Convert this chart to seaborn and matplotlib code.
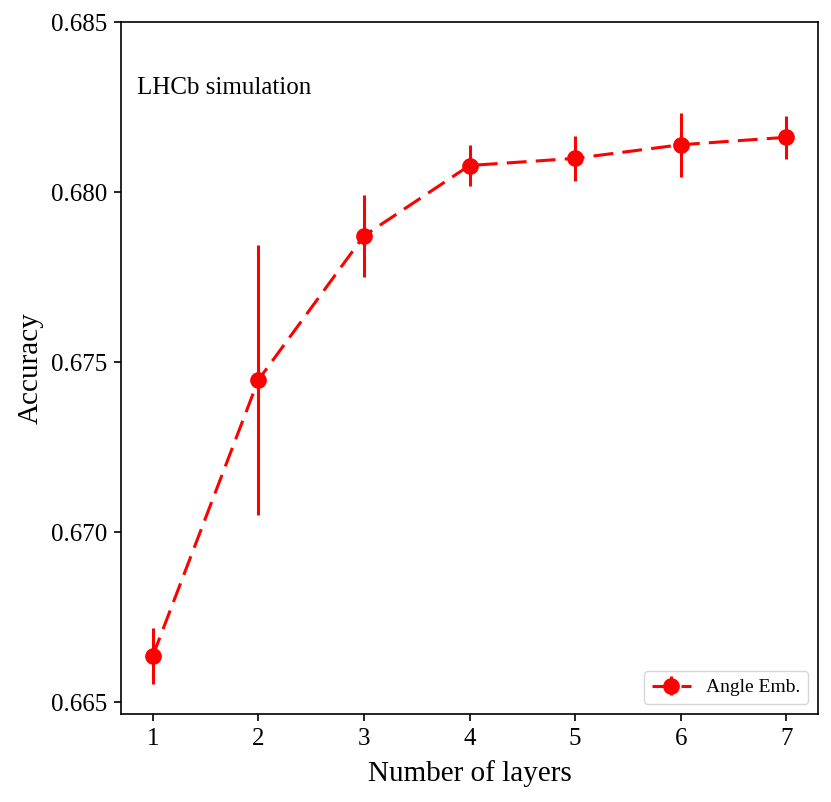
import numpy as np
import matplotlib.pyplot as plt
import seaborn as sns

# Accuracy vs number of layers (angle embedding)
layers = [1, 2, 3, 4, 5, 6, 7]
accuracy = [0.66635, 0.67447, 0.67871, 0.68078, 0.68099, 0.68139, 0.68161]
acc_err = [0.00083, 0.00397, 0.00121, 0.00059, 0.00066, 0.00094, 0.00063]

sns.set_theme(style="ticks")
plt.rcParams["font.family"] = ["Liberation Serif", "DejaVu Serif"]
plt.rcParams["text.color"] = "black"
plt.rcParams["axes.labelcolor"] = "black"

fig = plt.figure(figsize=(8.31, 8.02), dpi=100)
ax = fig.add_axes([121 / 831, 88 / 802, 697 / 831, 692 / 802])

ax.errorbar(layers, accuracy, yerr=acc_err, fmt="o--", color="red",
            markersize=11, linewidth=2.2, elinewidth=2.2, capsize=0,
            dashes=(6.5, 3), label="Angle Emb.")

ax.set_ylim(0.66465, 0.685)
ax.set_xlim(0.7, 7.3)
ax.set_yticks([0.665, 0.670, 0.675, 0.680, 0.685])
ax.set_yticklabels(["0.665", "0.670", "0.675", "0.680", "0.685"])
ax.set_xticks(layers)
ax.tick_params(labelsize=18, direction="out", length=5, width=1.2,
               pad=5, colors="black")
for s in ax.spines.values():
    s.set_linewidth(1.2)
    s.set_color("black")

ax.set_xlabel("Number of layers", fontsize=21, labelpad=7)
ax.set_ylabel("Accuracy", fontsize=21, labelpad=5)
ax.text(0.023, 0.905, "LHCb simulation", transform=ax.transAxes,
        fontsize=18, va="center", ha="left", color="black")
ax.legend(loc="lower right", fontsize=14)

fig.savefig("out.png", dpi=100)
